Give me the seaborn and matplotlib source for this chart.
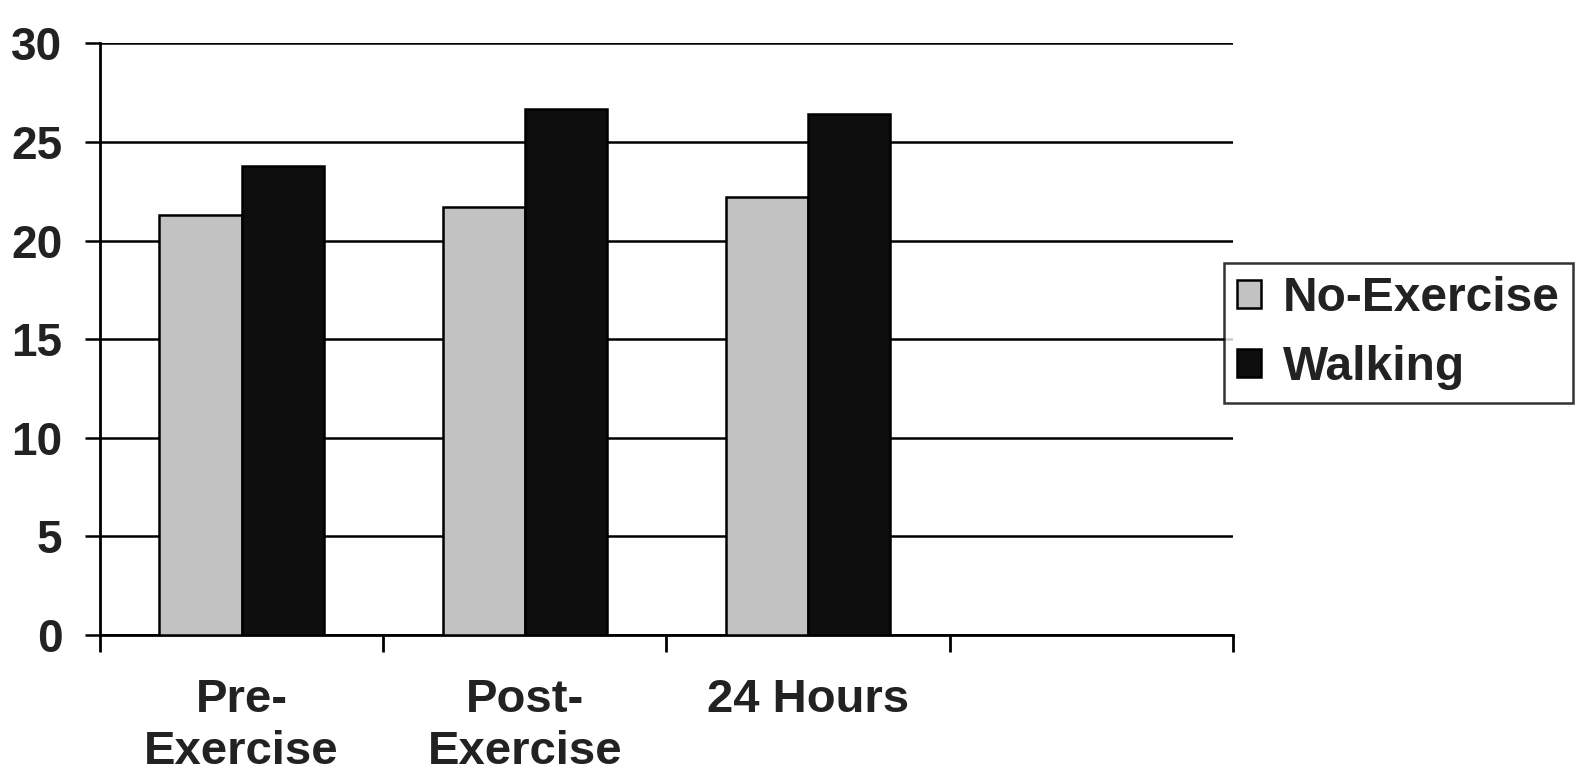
import matplotlib
matplotlib.use("Agg")
import matplotlib.pyplot as plt
import seaborn as sns
import pandas as pd
from matplotlib.ticker import FixedLocator

# Data
categories = ["Pre-\nExercise", "Post-\nExercise", "24 Hours"]
groups = ["No-Exercise", "Walking"]
no_exercise = [21.3, 21.7, 22.2]
walking = [23.8, 26.7, 26.4]
y_ticks = [0, 5, 10, 15, 20, 25, 30]

df = pd.DataFrame({
    "time": categories * 2,
    "group": [groups[0]] * 3 + [groups[1]] * 3,
    "value": no_exercise + walking,
})

sns.set_theme(style="white")
plt.rcParams["font.family"] = ["Liberation Sans", "DejaVu Sans"]
plt.rcParams["font.weight"] = "bold"

text_color = "#222222"
fig = plt.figure(figsize=(15.85, 7.76), dpi=100)
ax = fig.add_axes([0.063, 0.182, 0.715, 0.762])

sns.barplot(
    data=df, x="time", y="value", hue="group", order=categories,
    hue_order=groups, palette=["#c2c2c2", "#0e0e0e"], width=0.58,
    edgecolor="black", linewidth=1.8, saturation=1, ax=ax, zorder=3,
)

ax.set_xlim(-0.5, 3.5)
ax.set_ylim(0, 30)
ax.set_yticks(y_ticks)
ax.set_yticklabels([str(t) for t in y_ticks], fontsize=33, fontweight="bold",
                   color=text_color)
ax.set_xticks(range(len(categories)))
ax.set_xticklabels(categories, fontsize=34, fontweight="bold", color=text_color,
                   linespacing=1.25)
ax.xaxis.set_minor_locator(FixedLocator([-0.5, 0.5, 1.5, 2.5, 3.5]))
ax.tick_params(axis="x", which="major", length=0, pad=31)
ax.tick_params(axis="x", which="minor", length=12, width=2, color="black",
               bottom=True, direction="out")
ax.tick_params(axis="y", which="major", length=11, width=1.8, color="black",
               left=True, direction="out", pad=16)

ax.grid(axis="y", color="black", linewidth=1.8, zorder=0)
ax.grid(axis="x", visible=False)
ax.set_axisbelow(True)
ax.set_xlabel("")
ax.set_ylabel("")

for side in ["top", "right"]:
    ax.spines[side].set_visible(False)
for side in ["left", "bottom"]:
    ax.spines[side].set_color("black")
    ax.spines[side].set_linewidth(2)

ax.legend_.remove()
handles, labels = ax.get_legend_handles_labels()
leg = fig.legend(
    handles, labels, loc="upper left", bbox_to_anchor=(0.772, 0.6615),
    bbox_transform=fig.transFigure, borderaxespad=0, frameon=True,
    fancybox=False, edgecolor="black", handlelength=0.5,
    handleheight=0.5, handletextpad=0.45, borderpad=0.28, labelspacing=0.5,
    prop={"weight": "bold", "size": 34.5},
)
leg.get_frame().set_linewidth(1.8)
for t in leg.get_texts():
    t.set_color(text_color)

fig.savefig("out.png", dpi=100, facecolor="white")
